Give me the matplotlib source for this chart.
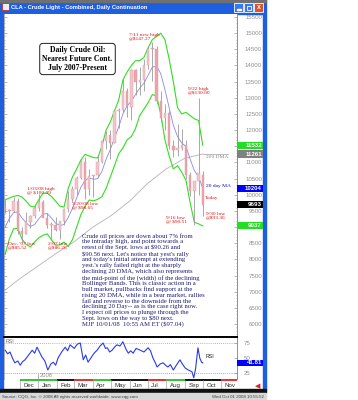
import matplotlib
matplotlib.use('Agg')
import matplotlib.pyplot as plt
import matplotlib.dates as mdates
import matplotlib.transforms as mtransforms
from matplotlib.patches import Rectangle
import numpy as np
import pandas as pd

# ---------------- data ----------------
week = ['2007-11-07','2007-11-14','2007-11-21','2007-11-28','2007-12-05','2007-12-12','2007-12-19','2007-12-26',
        '2008-01-02','2008-01-09','2008-01-16','2008-01-23','2008-01-30','2008-02-06','2008-02-13','2008-02-20',
        '2008-02-27','2008-03-05','2008-03-12','2008-03-19','2008-03-26','2008-04-02','2008-04-09','2008-04-16',
        '2008-04-23','2008-04-30','2008-05-07','2008-05-14','2008-05-21','2008-05-28','2008-06-04','2008-06-11',
        '2008-06-18','2008-06-25','2008-07-02','2008-07-09','2008-07-16','2008-07-23','2008-07-30','2008-08-06',
        '2008-08-13','2008-08-20','2008-08-27','2008-09-03','2008-09-10','2008-09-17','2008-09-24','2008-10-01']
opn = [9600,9530,9500,9800,8870,8800,9160,9330,9600,9790,9270,9060,9070,8900,9180,9550,
       9880,10180,10510,11020,10170,10570,10620,11010,11650,11850,11610,12590,12630,13220,12730,13850,
       13480,13540,14020,14510,14500,12890,12380,12540,11520,11380,11460,11550,10620,10120,10420,10600]
high = [9824,9560,9929,9910,8990,9480,9380,9680,10009,9850,9440,9150,9300,9120,9600,10110,
        10280,10590,11090,11180,10800,10600,11200,11700,11960,12000,12625,12700,13582,13300,13900,13900,
        13950,14200,14600,14727,14590,13200,12800,12600,11700,12200,12030,11700,10700,10200,13000,10750]
low = [9450,9155,9470,8780,8552,8780,8980,9290,9500,9370,8980,8611,8880,8626,9050,9480,
       9780,9980,10480,9880,9980,9940,10550,10990,11430,11110,11590,12080,12560,12400,12300,13100,
       13100,13200,13900,13528,12800,12250,12010,11420,11165,11200,11400,10500,9950,9051,10000,9336]
close = [9532,9510,9818,8871,8786,9163,9331,9603,9791,9269,9057,9071,8896,9177,9550,9881,
         10184,10515,11021,10170,10574,10623,11014,11652,11852,11615,12596,12629,13219,12735,13854,13486,
         13536,14021,14510,14505,12888,12377,12541,11520,11377,11459,11546,10623,10118,10418,10689,9693]
ma20 = [9000,9270,9450,9470,9280,9130,9020,9080,9260,9400,9420,9280,9120,9050,9080,9300,
        9580,9900,10230,10450,10520,10480,10500,10720,11100,11400,11750,12100,12500,12750,12900,13100,
        13300,13450,13700,13950,13980,13750,13250,12700,12150,11800,11600,11500,11100,10750,10550,10204]
bb_up = [9840,9900,9950,9980,9930,9800,9650,9620,9850,10050,10050,9950,9800,9650,9620,10200,
         10550,10800,11075,11250,11200,11150,11140,11500,12000,12250,12600,12930,13550,13800,14000,14150,
         14150,14250,14550,14800,14900,15000,14800,14200,13500,12700,12500,12550,12450,12350,12300,11532]
bb_lo = [8160,8640,8950,8960,8630,8460,8390,8540,8670,8750,8790,8610,8440,8450,8540,8400,
         8610,9000,9385,9650,9840,9810,9860,9940,10200,10550,10900,11270,11450,11700,11800,12050,
         12450,12650,12850,13100,13060,12500,11700,11200,10800,10900,10700,10450,9750,9150,9100,9037]
dma_dates = ['2007-11-07','2007-12-01','2008-01-01','2008-02-01','2008-03-01','2008-04-01','2008-05-01',
             '2008-06-01','2008-07-01','2008-08-01','2008-09-01','2008-10-01']
dma200 = [7050,7400,7800,8200,8550,9000,9350,9800,10350,10800,11130,11261]

rsi_dates = ['2007-11-07','2007-11-11','2007-11-15','2007-11-19','2007-11-23','2007-11-28','2007-12-02',
             '2007-12-06','2007-12-10','2007-12-16','2007-12-22','2007-12-26','2007-12-30','2008-01-03',
             '2008-01-07','2008-01-12','2008-01-17','2008-01-22','2008-01-26','2008-01-30','2008-02-03',
             '2008-02-09','2008-02-15','2008-02-19','2008-02-23','2008-03-01','2008-03-06','2008-03-11',
             '2008-03-16','2008-03-20','2008-03-24','2008-03-30','2008-04-03','2008-04-08','2008-04-13',
             '2008-04-18','2008-04-22','2008-04-25','2008-04-29','2008-05-03','2008-05-07','2008-05-11',
             '2008-05-16','2008-05-21','2008-05-26','2008-05-30','2008-06-03','2008-06-07','2008-06-12',
             '2008-06-19','2008-06-25','2008-07-02','2008-07-06','2008-07-10','2008-07-14','2008-07-17',
             '2008-07-22','2008-07-27','2008-07-31','2008-08-04','2008-08-08','2008-08-13','2008-08-18',
             '2008-08-24','2008-08-28','2008-09-02','2008-09-07','2008-09-13','2008-09-16','2008-09-19',
             '2008-09-23','2008-09-26','2008-09-29','2008-10-01']
rsi = [63,57,60,50,42,45,38,44,47,55,63,58,68,60,52,45,30,40,43,38,50,60,68,62,72,66,73,75,
       47,55,43,52,58,63,70,75,66,67,60,63,68,72,70,77,65,58,62,58,66,63,60,67,62,50,42,35,
       40,42,38,35,39,30,38,47,40,33,30,27,17,32,67,50,43,41.81]

price_ticks = [6000,6500,7000,7500,8000,8500,9000,9500,10000,10500,11000,11500,12000,12500,13000,
               13500,14000,14500,15000,15500]
rsi_ticks = [25, 50, 75]
months = ['Dec','Jan','Feb','Mar','Apr','May','Jun','Jul','Aug','Sep','Oct','Nov']
month_starts = ['2007-12-01','2008-01-01','2008-02-01','2008-03-01','2008-04-01','2008-05-01','2008-06-01',
                '2008-07-01','2008-08-01','2008-09-01','2008-10-01','2008-11-01','2008-12-01']
month_colors = ['#20c020','#20c020','#000000','#e02020','#20c020','#000000','#000000','#e02020',
                '#20c020','#000000','#000000','#e02020']

last_labels = [(11532, '11532', '#22dd22'), (11261, '11261', '#808080'), (10204, '10204', '#0000ff'),
               (9693, '9693', '#000000'), (9037, '9037', '#22dd22')]

notes = [('2008-05-31', 15005, '7/11 new high\n@$147.27'),
         ('2008-09-06', 13334, '9/22 high\n@$130.00'),
         ('2007-12-14', 10240, '1/03/08 high\n@ $100.09'),
         ('2008-02-26', 9776, '3/20/08 low\n@ $98.65'),
         ('2007-11-11', 8539, "Dec. '07 low\n@$85.52"),
         ('2008-01-17', 8539, '2/07 low\n@$86.26'),
         ('2008-07-31', 9343, '9/16 low\n@ $90.51'),
         ('2008-10-06', 9467, '9/30 low\n@$93.36')]

commentary = ("Crude oil prices are down about 7% from\n"
              "the intraday high, and point towards a\n"
              "retest of the Sept. lows at $90.26 and\n"
              "$90.56 next. Let's notice that yest's rally\n"
              "and today's initial attempt at extending\n"
              "yest.'s rally failed right at the sharply\n"
              "declining 20 DMA, which also represents\n"
              "the mid-point of the (width) of the declining\n"
              "Bollinger Bands. This is classic action in a\n"
              "bull market, pullbacks find support at the\n"
              "rising 20 DMA, while in a bear market, rallies\n"
              "fail and reverse to the downside from the\n"
              "declining 20 Day-- as is the case right now.\n"
              "I expect oil prices to plunge through the\n"
              "Sept. lows on the way to $80 next.\n"
              "MJF 10/01/08  10:55 AM ET ($97.04)")

# ---------------- figure ----------------
W, H = 358, 400
fig = plt.figure(figsize=(W / 100, H / 100), dpi=100)
fig.patch.set_facecolor('white')

def rect(x0, y0, x1, y1):
    return [x0 / W, 1 - y1 / H, (x1 - x0) / W, (y1 - y0) / H]

sans = ['Liberation Sans', 'DejaVu Sans']
serif = ['Liberation Serif', 'DejaVu Serif']

# window chrome
ch = fig.add_axes([0, 0, 1, 1], zorder=0)
ch.set_xlim(0, W); ch.set_ylim(H, 0); ch.axis('off')
blue = '#1d5fe0'
ch.add_patch(Rectangle((0, 0), 266, 14, color=blue))
ch.add_patch(Rectangle((0, 0), 266, 1.5, color='#707070'))
ch.add_patch(Rectangle((0, 14), 3, 376, color=blue))
ch.add_patch(Rectangle((263, 14), 3, 376, color=blue))
ch.add_patch(Rectangle((2, 3), 7, 7, fc='#f0f0f0', ec='#c03030', lw=0.6))
ch.text(11, 7.6, 'CLA - Crude Light - Combined, Daily Continuation', color='white', fontsize=4.15,
        fontweight='bold', va='center', ha='left', family=sans)
for bx, fc in [(234, '#3a78f0'), (244, '#3a78f0'), (254, '#e0502a')]:
    ch.add_patch(Rectangle((bx, 3), 9, 9, fc=fc, ec='white', lw=0.6))
ch.add_patch(Rectangle((236.5, 9), 4, 1.2, color='white'))
ch.add_patch(Rectangle((246.5, 5.5), 4, 4, fc='none', ec='white', lw=0.6))
ch.text(258.5, 7.5, 'x', color='white', fontsize=5, fontweight='bold', ha='center', va='center', family=sans)
ch.add_patch(Rectangle((0, 389), 266, 4, color='#101010'))
ch.add_patch(Rectangle((0, 393), 266, 7, color='#d8d8d8'))
ch.text(2, 396.8, 'Source: CQG, Inc. \u00a9 2008 All rights reserved worldwide. www.cqg.com', fontsize=3.2,
        color='#404040', va='center', ha='left', family=sans)
ch.text(264, 396.8, 'Wed Oct 01 2008 10:55:52', fontsize=3.2, color='#404040', va='center', ha='right', family=sans)
ch.text(258, 386, '\u25c0', color='#e02020', fontsize=5, ha='center', va='center', family=['DejaVu Sans'])

x0d = mdates.date2num(pd.Timestamp('2007-11-05'))
x1d = mdates.date2num(pd.Timestamp('2008-11-27'))

wd = mdates.date2num(pd.to_datetime(week))

# ---------------- price panel ----------------
ax = fig.add_axes(rect(4, 14, 237, 337), zorder=1)
ax.set_xlim(x0d, x1d)
ax.set_ylim(5600, 15593)
ax.set_facecolor('white')

dd = mdates.date2num(pd.to_datetime(dma_dates))
ax.plot(dd, dma200, color='#b8b0b0', lw=0.6, zorder=2)
ax.plot([dd[-1], mdates.date2num(pd.Timestamp('2008-11-12'))], [dma200[-1], dma200[-1]], color='#b8b0b0', lw=0.6, zorder=2)
ax.plot(wd, bb_up, color='#33dd22', lw=0.8, zorder=3)
ax.plot(wd, bb_lo, color='#33dd22', lw=0.8, zorder=3)
ax.plot(wd, ma20, color='#8a86f0', lw=0.6, zorder=3)
for d, o, h, l, c in zip(wd, opn, high, low, close):
    ax.vlines(d, l, h, color='#9a9a9a', lw=0.6, zorder=4)
    fc = '#f2a0aa' if c < o else '#f7c4c8'
    ax.add_patch(Rectangle((d - 2.0, min(o, c)), 4.0, max(abs(c - o), 25), fc=fc, ec='#c8a0a4', lw=0.3, zorder=5))

for sp in ['top', 'bottom']:
    ax.spines[sp].set_visible(False)
ax.spines['left'].set_color('#909090'); ax.spines['left'].set_linewidth(0.5)
ax.spines['right'].set_color('#909090'); ax.spines['right'].set_linewidth(0.7)
ax.spines['right'].set_linestyle((0, (1, 1)))
hidden = {v for v, _, _ in last_labels}
ax.set_yticks(price_ticks)
ax.set_yticklabels(['' if any(abs(t - h) < 120 for h in hidden) else str(t) for t in price_ticks])
ax.yaxis.set_ticks_position('both')
ax.yaxis.set_minor_locator(matplotlib.ticker.MultipleLocator(100))
ax.tick_params(axis='y', which='both', labelleft=False, labelright=True, direction='in', color='#808080',
               labelsize=4.4, labelcolor='#909090', pad=18, length=2, width=0.4)
ax.tick_params(axis='y', which='minor', length=1)
for lab in ax.get_yticklabels():
    lab.set_ha('right'); lab.set_family(sans)
ax.set_xticks([])

trans = mtransforms.blended_transform_factory(ax.transAxes, ax.transData)
for val, txt, bg in last_labels:
    ax.add_patch(Rectangle((1.0, val - 110), 26 / 233, 220, transform=trans, clip_on=False, fc=bg, ec='none', zorder=20))
    ax.text(1.0 + 25 / 233, val, txt, transform=trans, ha='right', va='center', color='white', fontsize=4.4,
            fontweight='bold', family=sans, zorder=21, clip_on=False)

for d, v, t in notes:
    ax.text(mdates.date2num(pd.Timestamp(d)), v, t, color='#e01010', fontsize=3.9, va='top', ha='left',
            family=serif, linespacing=1.0, parse_math=False, zorder=8)
ax.text(mdates.date2num(pd.Timestamp('2008-10-04')), 9900, 'Today', color='#e01010', fontsize=3.9,
        va='center', ha='left', family=serif, zorder=8)
ax.text(mdates.date2num(pd.Timestamp('2008-10-07')), 10271, '20 day MA', color='#0000c0', fontsize=3.9,
        va='center', ha='left', family=serif, zorder=8)
ax.text(mdates.date2num(pd.Timestamp('2008-10-07')), 11168, '200 DMA', color='#808080', fontsize=3.9,
        va='center', ha='left', family=serif, zorder=8)

# ---------------- RSI panel ----------------
rx = fig.add_axes(rect(4, 337, 237, 379), zorder=1)
rx.set_xlim(x0d, x1d)
rx.set_ylim(15, 85)
rd = mdates.date2num(pd.to_datetime(rsi_dates))
rx.axhline(75, color='#e08080', lw=0.6, ls=(0, (1, 1.5)))
rx.axhline(25, color='#8080e0', lw=0.6, ls=(0, (1, 1.5)))
rx.plot(rd, rsi, color='#2a3ae8', lw=0.8)
rx.spines['top'].set_color('black'); rx.spines['top'].set_linewidth(1.4)
rx.spines['bottom'].set_visible(False)
rx.spines['left'].set_color('#909090'); rx.spines['left'].set_linewidth(0.5)
rx.spines['right'].set_color('#909090'); rx.spines['right'].set_linewidth(0.7)
rx.spines['right'].set_linestyle((0, (1, 1)))
rx.set_xticks([])
rx.set_yticks(rsi_ticks)
rx.set_yticklabels([str(t) for t in rsi_ticks])
rx.tick_params(axis='y', labelleft=False, labelright=True, left=False, right=True, direction='in',
               labelsize=4.4, labelcolor='#909090', pad=10, length=2, width=0.4, color='#808080')
for lab in rx.get_yticklabels():
    lab.set_ha('right'); lab.set_family(sans)
rtrans = mtransforms.blended_transform_factory(rx.transAxes, rx.transData)
rx.add_patch(Rectangle((1.0, rsi[-1] - 5.5), 26 / 233, 11, transform=rtrans, clip_on=False, fc='#0000ff', ec='none', zorder=20))
rx.text(1.0 + 25 / 233, rsi[-1], '41.81', transform=rtrans, ha='right', va='center', color='white', fontsize=4.4,
        fontweight='bold', family=sans, zorder=21, clip_on=False)
rx.text(0.005, 0.9, 'RSI', transform=rx.transAxes, fontsize=3.8, color='#707070', va='center', ha='left', family=sans)
rx.text(mdates.date2num(pd.Timestamp('2008-10-06')), 53, 'RSI', fontsize=3.8, color='#202020', va='center',
        ha='left', family=sans)
rx.text(mdates.date2num(pd.Timestamp('2008-01-03')), 16, '2008', fontsize=4.2, color='#909090', va='bottom',
        ha='left', family=sans)
rx.axvline(mdates.date2num(pd.Timestamp('2008-01-01')), ymin=0, ymax=0.12, color='#909090', lw=0.5)

# ---------------- time strip ----------------
tx = fig.add_axes(rect(4, 379, 237, 389), zorder=1)
tx.set_xlim(x0d, x1d); tx.set_ylim(0, 1)
tx.axis('off')
ms = mdates.date2num(pd.to_datetime(month_starts))
for i, m in enumerate(months):
    tx.plot([ms[i], ms[i + 1]], [0.92, 0.92], color=month_colors[i], lw=1.3, solid_capstyle='butt')
    tx.plot([ms[i], ms[i]], [0.0, 0.92], color='#909090', lw=0.4)
    tx.text(ms[i] + 6, 0.38, m, fontsize=4.4, color='#303030', ha='left', va='center', family=sans)

# ---------------- text boxes ----------------
fig.text(77.5 / W, 1 - 59 / H, 'Daily Crude Oil:\nNearest Future Cont.\nJuly 2007-Present', fontsize=5.6,
         fontweight='bold', family=serif, ha='center', va='center', linespacing=1.15, color='black',
         bbox=dict(boxstyle='round,pad=0.35,rounding_size=0.4', fc='white', ec='#202020', lw=0.7), zorder=30)
fig.text(82 / W, 1 - 233 / H, commentary, fontsize=4.8, family=serif, ha='left', va='top', color='#1a1a70',
         linespacing=1.14, parse_math=False, zorder=30)

fig.savefig('out.png', dpi=100)
